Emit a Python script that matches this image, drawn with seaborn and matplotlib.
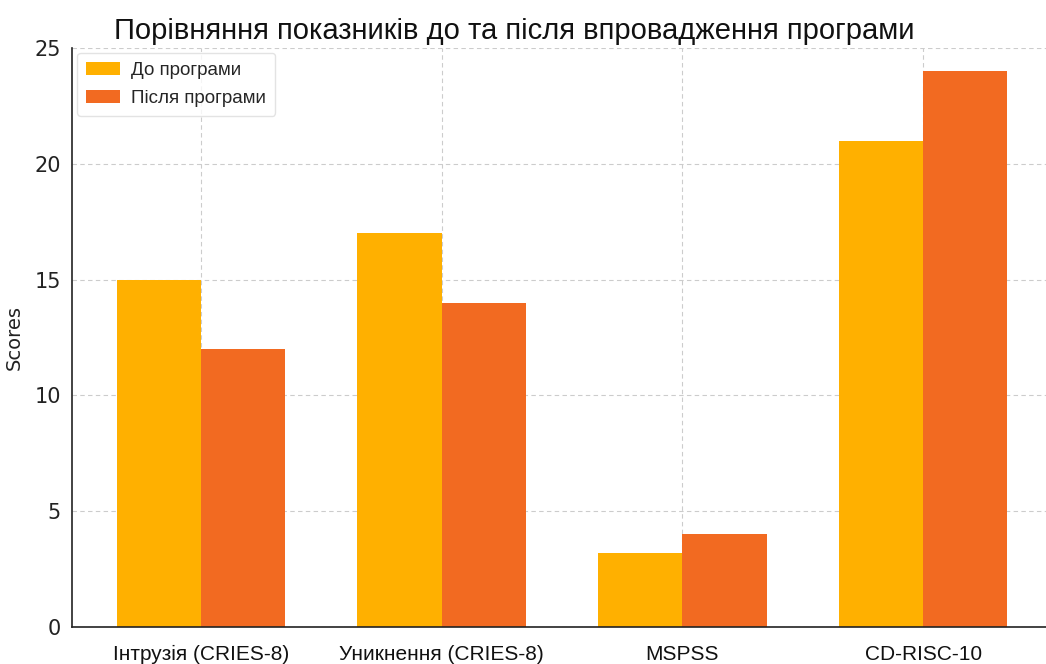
import matplotlib
matplotlib.use("Agg")
import matplotlib.pyplot as plt
import seaborn as sns
import pandas as pd

categories = ["Інтрузія (CRIES-8)", "Уникнення (CRIES-8)", "MSPSS", "CD-RISC-10"]
before_label = "До програми"
after_label = "Після програми"
before_values = [15, 17, 3.2, 21]
after_values = [12, 14, 4.0, 24]
y_ticks = [0, 5, 10, 15, 20, 25]

df = pd.DataFrame({
    "category": categories * 2,
    "score": before_values + after_values,
    "phase": [before_label] * len(categories) + [after_label] * len(categories),
})

sns.set_theme(style="white")
plt.rcParams["font.family"] = ["Liberation Sans", "DejaVu Sans"]

fig = plt.figure(figsize=(10.46, 6.64), dpi=100)
ax = fig.add_axes([0.069, 0.0557, 0.931, 0.872])

palette = {before_label: "#FFB000", after_label: "#F26A21"}
sns.barplot(data=df, x="category", y="score", hue="phase", palette=palette,
            width=0.7, gap=0, saturation=1, linewidth=0, ax=ax, legend=True)

ax.set_xlim(-0.535, 3.51)
ax.set_ylim(0, 25)
ax.set_yticks(y_ticks)
ax.grid(True, linestyle=(0, (4, 3)), color="#cccccc", linewidth=0.8)
ax.set_axisbelow(True)

for side in ["top", "right"]:
    ax.spines[side].set_visible(False)
for side in ["left", "bottom"]:
    ax.spines[side].set_color("#222222")
    ax.spines[side].set_linewidth(1.2)

ax.tick_params(axis="x", direction="in", length=5, width=1, color="#222222",
               labelsize=15, pad=13)
ax.tick_params(axis="y", direction="out", length=5, width=1, color="#222222",
               labelsize=15, pad=3)
for lab in ax.get_yticklabels():
    lab.set_family("DejaVu Sans")
    lab.set_color("#222222")
for lab in ax.get_xticklabels():
    lab.set_color("#111111")

ax.set_xlabel("")
ax.set_ylabel("Scores", fontsize=14, family="DejaVu Sans", color="#222222", labelpad=8)

fig.suptitle("Порівняння показників до та після впровадження програми",
             fontsize=21, x=0.492, y=0.975, va="top", color="#111111")

leg = ax.legend(loc="upper left", fontsize=13.5, frameon=True, handlelength=1.8,
                handleheight=0.7, handletextpad=0.6, borderpad=0.5,
                labelspacing=0.55, borderaxespad=0.25,
                bbox_to_anchor=(0.0, 1.0))
leg.get_frame().set_edgecolor("#dddddd")
leg.get_frame().set_linewidth(1)

fig.savefig("out.png", dpi=100)
